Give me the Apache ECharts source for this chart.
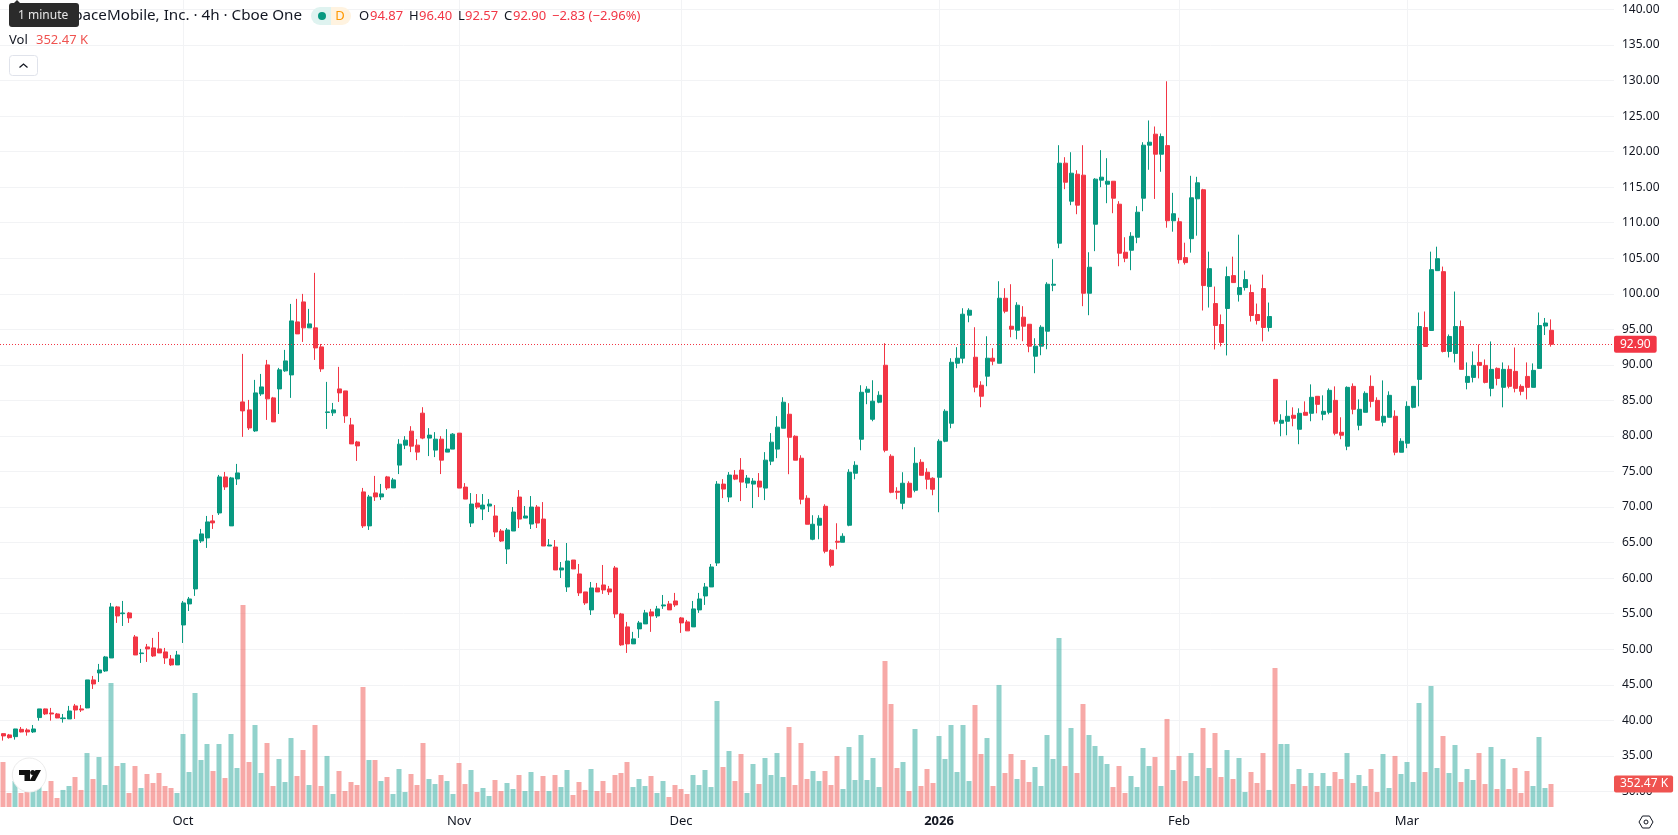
<!DOCTYPE html>
<html>
<head>
<meta charset="utf-8">
<title>AST SpaceMobile, Inc. 4h</title>
<script src="https://cdn.jsdelivr.net/npm/echarts@6/dist/echarts.min.js"></script>
<style>
  html, body { margin: 0; padding: 0; background: #fff; }
  #chart { width: 1678px; height: 835px; }
</style>
</head>
<body>
<div id="chart"></div>
<script>
// Four-hour candles and volume (thousands of shares), oldest first.
const opens = [
  38.12,37.94,37.70,38.73,38.64,38.36,40.38,41.60,41.03,40.89,
  40.23,40.19,42.02,41.60,41.74,45.68,46.66,46.94,48.77,55.95,
  55.00,55.10,51.73,49.38,50.32,50.18,50.04,49.62,48.63,47.79,
  53.41,56.37,58.48,65.23,65.66,68.05,69.17,74.24,67.35,73.96,
  84.79,83.67,80.71,85.92,90.00,85.36,86.62,89.16,88.59,96.05,
  98.86,95.21,95.21,92.53,83.30,83.25,86.62,86.34,81.56,79.16,
  72.13,67.35,71.99,71.43,74.24,72.69,75.90,78.71,80.68,78.71,
  83.21,79.70,78.01,79.55,77.73,78.15,80.40,72.81,67.75,70.56,
  69.72,70.14,68.74,66.63,64.10,66.63,71.41,68.45,67.61,70.00,
  68.31,64.52,64.38,61.15,58.76,62.55,60.59,58.06,55.53,58.62,
  59.04,58.48,61.43,54.96,53.14,50.75,52.86,53.56,55.25,54.68,
  56.09,56.37,56.79,54.40,53.84,53.14,55.53,57.49,58.76,62.13,
  73.23,71.41,74.50,75.20,73.37,73.23,73.65,72.67,76.46,78.15,
  81.09,83.06,79.96,76.87,71.24,65.47,67.44,70.11,63.92,65.19,
  65.05,67.44,74.76,79.54,86.15,82.35,84.75,89.95,77.15,72.22,
  70.53,73.35,72.36,76.30,74.90,74.05,74.19,79.26,81.79,90.23,
  90.94,96.99,91.08,87.14,88.41,90.94,90.23,99.38,95.44,94.88,
  96.71,95.72,91.22,92.63,94.74,101.21,107.12,118.38,113.03,116.83,
  116.69,100.08,109.79,115.99,115.42,115.84,112.61,105.85,106.13,107.96,
  113.45,120.91,122.46,119.64,120.85,110.28,110.14,105.09,107.76,113.37,
  114.64,101.02,98.63,95.68,97.93,102.56,99.89,100.88,100.18,97.09,
  100.74,95.26,87.96,81.79,82.07,82.91,80.94,83.33,83.19,85.58,
  83.05,83.33,85.01,80.52,78.56,86.98,81.50,83.33,86.98,85.01,
  81.93,82.63,82.77,77.71,78.98,84.03,87.96,95.26,94.84,103.26,
  103.12,91.89,91.61,95.40,87.54,88.24,90.35,89.93,86.70,89.51,
  86.84,89.37,89.09,86.98,88.38,86.84,89.51,95.47,94.87
];
const closes = [
  37.80,37.56,38.78,38.36,38.36,38.78,41.60,40.90,40.89,40.33,
  40.33,41.31,41.45,41.45,45.68,45.11,47.08,48.91,55.95,54.68,
  55.10,54.40,49.19,49.47,50.04,49.05,49.47,48.77,47.79,49.19,
  56.51,57.07,65.38,66.22,67.91,67.77,74.24,72.83,74.10,74.80,
  83.53,81.13,86.06,86.90,85.22,81.98,89.30,90.56,96.19,94.36,
  95.21,95.77,92.39,89.44,83.39,83.67,86.06,82.82,78.88,78.60,
  67.35,71.43,71.43,71.85,72.69,73.82,78.85,79.41,78.57,77.73,
  79.70,80.12,79.55,76.60,78.15,80.26,72.67,71.12,70.42,70.00,
  70.28,70.42,66.49,65.22,66.77,69.30,68.31,68.74,70.00,67.75,
  64.52,64.66,61.15,61.43,62.41,61.29,57.92,56.51,58.62,58.06,
  58.34,58.06,54.96,50.61,50.75,51.45,53.70,55.11,54.68,55.67,
  56.23,55.53,56.23,53.70,52.58,55.67,57.07,58.76,61.57,73.23,
  72.53,74.50,73.93,73.51,74.07,73.65,72.81,76.60,79.13,81.24,
  84.75,79.82,76.59,71.10,67.58,67.58,68.42,63.78,61.81,65.05,
  65.89,74.90,75.88,86.15,86.58,84.89,85.73,77.99,72.08,72.08,
  73.35,71.38,76.16,74.47,73.91,72.50,79.26,83.48,90.37,90.94,
  97.13,97.69,86.86,85.59,90.94,90.52,99.38,97.55,95.02,98.40,
  95.44,92.63,92.63,95.30,101.35,101.35,118.38,115.70,116.97,112.47,
  100.08,103.74,116.13,116.41,115.84,113.45,105.71,105.00,108.10,111.48,
  120.91,121.33,119.64,122.12,110.28,111.27,104.81,104.39,113.51,115.62,
  101.16,103.54,95.54,93.16,102.42,101.58,100.88,102.00,96.95,96.24,
  95.26,96.81,82.07,82.21,82.77,82.49,83.19,82.91,85.44,84.45,
  83.47,86.42,80.38,80.10,86.84,83.75,83.75,86.00,84.87,82.21,
  82.77,85.72,77.71,79.26,84.17,86.98,95.40,92.59,103.40,104.95,
  91.89,94.00,95.40,89.37,88.38,89.93,89.93,87.54,89.37,88.10,
  89.37,86.98,86.70,86.28,86.84,89.23,95.54,95.89,92.90
];
const highs = [
  38.17,38.08,38.80,39.06,38.87,39.34,41.60,41.65,41.74,41.03,
  40.89,42.02,42.30,42.16,45.68,46.24,47.93,49.05,56.51,56.09,
  56.79,55.24,52.00,50.04,50.74,51.59,52.43,50.18,49.19,49.76,
  56.79,57.35,65.38,66.92,68.75,68.89,74.52,74.94,74.24,76.07,
  91.55,85.07,87.89,88.73,90.70,85.50,89.58,92.11,98.58,99.29,
  99.99,97.88,102.95,92.95,87.61,84.65,89.72,86.34,82.54,79.31,
  72.69,71.71,74.38,73.25,74.38,74.10,79.55,79.98,81.38,79.55,
  84.05,81.10,80.54,79.98,80.96,80.40,80.40,73.37,71.97,71.83,
  71.83,71.12,70.28,66.91,67.05,70.00,72.39,70.14,71.55,70.28,
  70.70,65.50,65.36,62.27,64.94,62.55,61.99,58.06,59.46,59.32,
  61.85,58.90,61.71,55.11,53.84,52.44,53.98,55.53,55.67,56.09,
  57.63,56.79,57.92,54.54,54.12,56.79,57.92,59.32,61.99,73.65,
  73.93,74.92,75.20,76.89,74.50,74.07,74.78,77.73,80.40,82.79,
  85.45,84.61,80.10,77.29,71.66,68.85,68.85,70.39,64.06,67.72,
  66.31,75.32,76.44,87.14,87.00,87.84,86.29,93.05,77.43,72.79,
  74.90,73.63,78.41,76.73,75.46,74.19,79.54,83.76,90.94,92.49,
  97.97,97.97,95.30,87.70,94.03,92.35,101.77,100.79,101.35,98.82,
  98.26,95.72,93.75,95.58,101.63,104.87,120.91,119.22,119.92,117.39,
  120.91,105.85,116.27,120.21,119.08,115.84,113.03,107.96,108.67,112.33,
  121.33,124.39,123.54,122.55,129.90,114.21,110.70,107.19,116.60,116.46,
  114.77,105.93,101.02,97.09,103.83,105.23,108.32,103.26,101.30,98.63,
  102.70,98.77,87.96,83.05,85.01,84.03,83.89,84.87,87.26,85.58,
  85.72,86.70,86.98,82.63,86.98,87.40,85.15,86.28,88.52,85.44,
  87.82,86.28,83.61,79.68,84.87,86.98,97.37,97.51,105.93,106.63,
  103.83,94.28,100.32,96.24,90.35,91.89,92.88,90.77,93.30,89.65,
  90.35,89.93,92.45,87.26,90.35,90.21,97.37,96.60,96.40
];
const lows = [
  37.14,37.42,37.28,38.30,37.84,38.22,39.95,40.75,39.95,40.30,
  39.67,40.19,40.19,41.17,41.70,44.41,45.39,46.80,48.77,53.70,
  53.27,53.70,49.19,48.07,48.21,48.91,49.47,47.93,47.65,47.79,
  50.88,55.38,57.50,64.95,64.25,66.92,68.89,72.41,67.35,73.11,
  79.87,80.85,80.57,85.64,82.26,81.98,83.10,89.02,85.36,94.36,
  93.23,95.21,90.70,89.02,80.99,82.82,84.79,81.84,78.88,76.49,
  67.06,66.78,70.86,71.00,72.41,72.69,74.64,78.15,77.73,76.60,
  79.55,77.17,77.03,74.64,77.73,78.15,72.67,71.12,67.19,69.72,
  68.17,69.30,65.78,65.08,61.99,66.63,67.05,68.45,66.91,67.05,
  64.52,64.52,61.15,60.02,58.06,61.29,57.49,56.23,54.82,58.06,
  57.78,57.63,54.40,50.47,49.48,50.75,51.59,53.56,52.44,54.40,
  55.67,55.53,55.95,52.30,52.58,53.14,55.11,56.23,58.76,61.71,
  71.26,70.70,73.79,70.84,72.67,69.86,71.41,70.98,75.90,76.88,
  81.09,74.62,76.59,70.39,67.58,65.33,65.47,63.50,61.53,64.06,
  65.05,67.30,73.91,77.99,84.47,82.07,84.61,77.71,71.94,71.10,
  69.69,71.38,72.08,74.47,72.50,71.66,69.27,79.12,81.09,89.53,
  90.23,96.00,86.15,84.04,87.00,89.95,90.23,97.27,93.89,93.61,
  93.33,91.78,88.83,91.36,92.20,100.37,106.42,114.72,112.47,111.20,
  98.26,96.99,106.00,115.00,112.75,111.34,103.88,104.45,103.32,107.12,
  111.62,117.45,113.35,117.17,109.30,108.74,104.25,104.11,105.79,108.18,
  97.65,98.07,92.17,92.60,91.33,101.58,98.91,100.46,96.10,95.68,
  93.30,94.70,81.64,79.96,80.10,81.36,78.84,82.91,82.07,83.19,
  82.21,83.05,80.10,79.54,78.00,83.05,80.80,83.33,84.03,82.21,
  81.36,82.63,77.29,77.71,78.28,83.89,84.17,92.59,94.84,103.26,
  91.75,91.05,90.35,89.37,86.56,87.54,88.10,87.40,85.58,87.12,
  84.03,86.70,86.14,85.72,85.15,86.84,89.51,94.20,92.57
];
const volumes = [
  690,215,398,215,235,312,312,245,398,138,
  261,322,460,261,827,429,766,337,1900,628,
  674,215,628,291,506,368,521,322,291,215,
  1119,536,1747,720,965,552,965,444,1119,598,
  3095,690,1257,521,981,322,736,383,1057,475,
  873,337,1257,322,782,199,552,245,383,337,
  1839,720,720,398,460,199,582,230,506,337,
  981,429,352,490,398,199,674,352,567,230,
  291,169,414,245,368,276,490,245,536,245,
  475,245,490,306,567,184,383,261,582,245,
  398,215,490,521,690,306,429,322,475,215,
  398,153,337,276,199,490,337,567,306,1624,
  613,858,398,812,215,659,352,751,490,827,
  460,1226,337,981,429,552,398,552,337,782,
  276,919,414,1103,414,751,306,2237,1578,598,
  690,245,1195,322,582,368,1088,736,1257,536,
  1257,398,1563,812,1057,322,1870,521,812,429,
  720,383,613,322,1103,736,2590,628,1211,521,
  1578,1103,935,782,659,306,628,215,475,306,
  904,628,766,322,1349,567,782,398,827,475,
  1211,598,1134,460,873,429,751,230,536,368,
  827,261,2130,965,965,352,582,322,521,322,
  521,322,536,429,827,368,490,322,582,230,
  812,291,782,506,690,383,1594,536,1854,598,
  1088,521,950,383,582,414,827,352,919,276,
  736,276,598,215,552,322,1073,291,352.47
];

// Where the time scale prints a label; every other slot stays blank.
const tickIndexes = [30, 76, 113, 156, 196, 234];
const tickLabels = ['Oct', 'Nov', 'Dec', '2026', 'Feb', 'Mar'];
const emptySlotsOnRight = 10;

const lastClose = 92.90;
const lastVolume = 352.47;

const UP = '#089981', DOWN = '#f23645';
const UP_VOL = 'rgba(38,166,154,0.5)', DOWN_VOL = 'rgba(239,83,80,0.5)';
const GRID_LINE = '#f2f3f5', INK = '#131722';
const FONT = '"Noto Sans", sans-serif';

const slotCount = opens.length + emptySlotsOnRight;
const categories = Array.from({ length: slotCount }, (_, i) => {
  const k = tickIndexes.indexOf(i);
  return k >= 0 ? tickLabels[k] : '';
});
const candleData = opens.map((o, i) => [o, closes[i], lows[i], highs[i]]);
const volumeData = volumes.map((v, i) => ({
  value: v,
  itemStyle: { color: closes[i] >= opens[i] ? UP_VOL : DOWN_VOL }
}));

const isTick = (i) => tickIndexes.indexOf(i) >= 0;

const headerGraphics = [
  { type: 'text', z: 20, style: { text: 'AST SpaceMobile, Inc. · 4h · Cboe One', x: 302, y: 16, textAlign: 'right', textVerticalAlign: 'middle', font: '15.2px ' + FONT, fill: INK } },
  { type: 'rect', z: 20, shape: { x: 311, y: 7, width: 20, height: 18, r: [9, 0, 0, 9] }, style: { fill: '#dff3f0' } },
  { type: 'rect', z: 20, shape: { x: 331, y: 7, width: 20, height: 18, r: [0, 9, 9, 0] }, style: { fill: '#fff3e0' } },
  { type: 'circle', z: 21, shape: { cx: 322, cy: 16, r: 4 }, style: { fill: UP } },
  { type: 'text', z: 21, style: { text: 'D', x: 340, y: 16, textAlign: 'center', textVerticalAlign: 'middle', font: '13px ' + FONT, fill: '#ff9800' } },
  { type: 'text', z: 20, style: { text: 'O', x: 359, y: 16, textVerticalAlign: 'middle', font: '13px ' + FONT, fill: INK } },
  { type: 'text', z: 20, style: { text: opens[258].toFixed(2), x: 370, y: 16, textVerticalAlign: 'middle', font: '13px ' + FONT, fill: DOWN } },
  { type: 'text', z: 20, style: { text: 'H', x: 409, y: 16, textVerticalAlign: 'middle', font: '13px ' + FONT, fill: INK } },
  { type: 'text', z: 20, style: { text: highs[258].toFixed(2), x: 419, y: 16, textVerticalAlign: 'middle', font: '13px ' + FONT, fill: DOWN } },
  { type: 'text', z: 20, style: { text: 'L', x: 458, y: 16, textVerticalAlign: 'middle', font: '13px ' + FONT, fill: INK } },
  { type: 'text', z: 20, style: { text: lows[258].toFixed(2), x: 465, y: 16, textVerticalAlign: 'middle', font: '13px ' + FONT, fill: DOWN } },
  { type: 'text', z: 20, style: { text: 'C', x: 504, y: 16, textVerticalAlign: 'middle', font: '13px ' + FONT, fill: INK } },
  { type: 'text', z: 20, style: { text: closes[258].toFixed(2), x: 513, y: 16, textVerticalAlign: 'middle', font: '13px ' + FONT, fill: DOWN } },
  { type: 'text', z: 20, style: { text: '−2.83 (−2.96%)', x: 552, y: 16, textVerticalAlign: 'middle', font: '13px ' + FONT, fill: DOWN } },
  { type: 'text', z: 20, style: { text: 'Vol', x: 9, y: 40, textVerticalAlign: 'middle', font: '13px ' + FONT, fill: INK } },
  { type: 'text', z: 20, style: { text: '352.47 K', x: 36, y: 40, textVerticalAlign: 'middle', font: '13px ' + FONT, fill: '#ef5350' } },
  // Collapse button for the legend rows
  { type: 'rect', z: 20, shape: { x: 9.5, y: 55.5, width: 28, height: 20, r: 3 }, style: { fill: '#fff', stroke: '#e0e3eb', lineWidth: 1 } },
  { type: 'polyline', z: 21, shape: { points: [[19.5, 67.5], [23.5, 64], [27.5, 67.5]] }, style: { fill: 'none', stroke: INK, lineWidth: 1.3 } },
  // "1 minute" tooltip lying over the start of the title
  { type: 'polygon', z: 30, shape: { points: [[14, 3], [17, 0], [20, 3]] }, style: { fill: '#2b2b2b' } },
  { type: 'rect', z: 30, shape: { x: 9, y: 3, width: 70, height: 24, r: 3 }, style: { fill: '#2b2b2b' } },
  { type: 'text', z: 31, style: { text: '1 minute', x: 18, y: 15.5, textVerticalAlign: 'middle', font: '12px ' + FONT, fill: '#e8e8e8' } }
];

const footerGraphics = [
  // Brand badge, bottom left
  { type: 'circle', z: 20, shape: { cx: 29.3, cy: 775, r: 17 }, style: { fill: '#fff', stroke: '#ececec', lineWidth: 1 } },
  { type: 'polygon', z: 21, shape: { points: [[19, 770], [30, 770], [30, 781], [24.5, 781], [24.5, 775], [19, 775]] }, style: { fill: '#111' } },
  { type: 'circle', z: 21, shape: { cx: 32.7, cy: 772.5, r: 2.5 }, style: { fill: '#111' } },
  { type: 'polygon', z: 21, shape: { points: [[35.5, 770], [41, 770], [35, 781], [29.5, 781]] }, style: { fill: '#111' } },
  // Settings hexagon under the price scale
  { type: 'polygon', z: 20, shape: { points: [[1639, 822], [1642.5, 816], [1649.5, 816], [1653, 822], [1649.5, 828], [1642.5, 828]] }, style: { fill: 'none', stroke: INK, lineWidth: 1 } },
  { type: 'circle', z: 20, shape: { cx: 1646, cy: 822, r: 2 }, style: { fill: 'none', stroke: INK, lineWidth: 1 } }
];

const chart = echarts.init(document.getElementById('chart'), null, { renderer: 'canvas' });
chart.setOption({
  animation: false,
  backgroundColor: '#ffffff',
  textStyle: { fontFamily: FONT },
  grid: [
    { left: 0, width: 1614, top: 9.5, height: 781.87 },
    { left: 0, width: 1614, top: 0, height: 807 }
  ],
  xAxis: [
    {
      type: 'category', gridIndex: 0, data: categories, boundaryGap: true,
      axisLine: { show: false }, axisTick: { show: false }, axisLabel: { show: false }, splitLine: { show: false }
    },
    {
      type: 'category', gridIndex: 1, data: categories, boundaryGap: true,
      axisLine: { show: false }, axisTick: { show: false },
      axisLabel: {
        interval: (i) => isTick(i), margin: 8, fontSize: 13, color: INK, hideOverlap: false,
        formatter: (v) => (v === '2026' ? '{year|2026}' : v),
        rich: { year: { fontWeight: 'bold', fontSize: 13, color: INK, fontFamily: FONT } }
      },
      splitLine: { show: true, interval: (i) => isTick(i), alignWithLabel: true, lineStyle: { color: GRID_LINE, width: 1 } }
    }
  ],
  yAxis: [
    {
      type: 'value', gridIndex: 0, position: 'right', min: 30, max: 140, interval: 5,
      axisLine: { show: false }, axisTick: { show: false },
      axisLabel: { margin: 8, fontSize: 12, color: INK, align: 'left', formatter: (v) => v.toFixed(2) },
      splitLine: { show: true, lineStyle: { color: GRID_LINE, width: 1 } }
    },
    {
      type: 'value', gridIndex: 1, min: 0, max: 12366,
      axisLine: { show: false }, axisTick: { show: false }, axisLabel: { show: false }, splitLine: { show: false }
    }
  ],
  series: [
    {
      type: 'bar', name: 'Volume', xAxisIndex: 1, yAxisIndex: 1, data: volumeData, barWidth: 5, z: 2, silent: true,
      markLine: {
        silent: true, symbol: 'none', animation: false,
        lineStyle: { color: 'rgba(0,0,0,0)', width: 0 },
        label: {
          position: 'end', distance: 0, formatter: lastVolume.toFixed(2) + ' K', color: '#fff', fontSize: 12,
          fontFamily: FONT, backgroundColor: '#ef5350', padding: [3, 5, 2, 6], borderRadius: 2
        },
        data: [{ yAxis: lastVolume }]
      }
    },
    {
      type: 'candlestick', name: 'Price', xAxisIndex: 0, yAxisIndex: 0, data: candleData, barWidth: 4.5, z: 3, silent: true,
      itemStyle: { color: UP, color0: DOWN, borderColor: UP, borderColor0: DOWN, borderWidth: 1 },
      markLine: {
        silent: true, symbol: 'none', animation: false, precision: 2,
        lineStyle: { color: DOWN, type: [1, 2], width: 1 },
        label: {
          position: 'end', distance: 0, formatter: lastClose.toFixed(2), color: '#fff', fontSize: 12,
          fontFamily: FONT, backgroundColor: DOWN, padding: [3, 6, 2, 6], borderRadius: 2
        },
        data: [{ yAxis: lastClose }]
      }
    }
  ],
  graphic: headerGraphics.concat(footerGraphics)
});
</script>
</body>
</html>
